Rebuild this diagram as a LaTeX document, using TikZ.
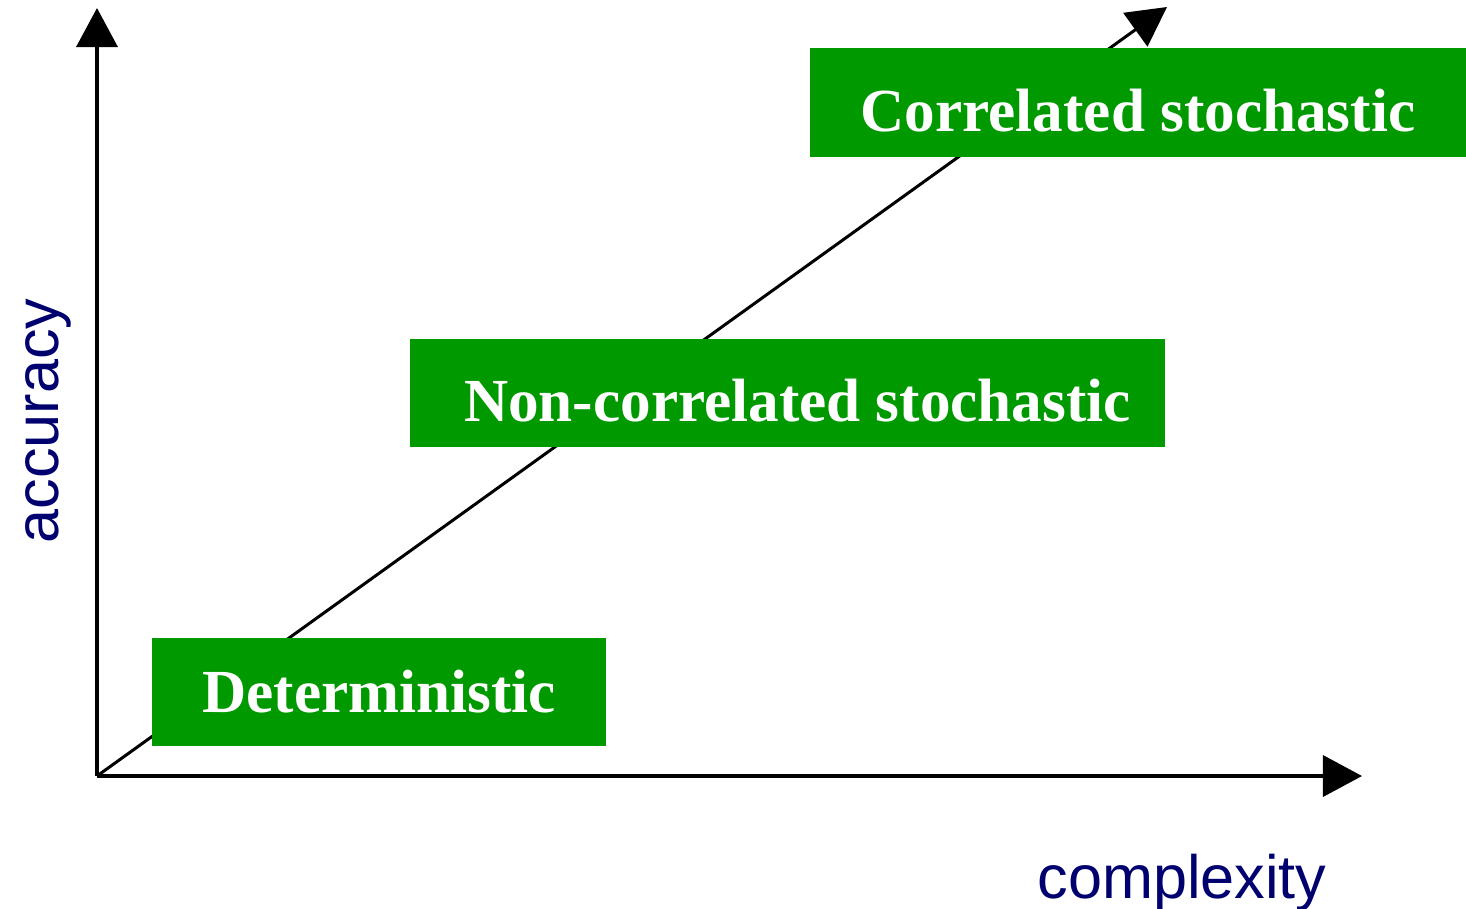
\documentclass[tikz,border=0pt]{standalone}
\usepackage{fontspec}
\setmainfont{Liberation Serif}
\newfontfamily\labelfont{Liberation Sans}
\usetikzlibrary{arrows.meta}
\definecolor{boxgreen}{RGB}{0,153,0}
\definecolor{labelblue}{RGB}{0,0,110}
\tikzset{
  axis/.style={line width=1pt,-{Triangle[length=0.39cm,width=0.41cm]}},
  classbox/.style={fill=boxgreen,text=white,inner sep=0pt,minimum height=1.08cm,
    text depth=0pt,text height=0.57cm,
    font=\fontsize{17.4pt}{20pt}\selectfont\bfseries},
  axislabel/.style={text=labelblue,inner sep=0pt,anchor=base,
    font=\labelfont\fontsize{17.4pt}{20pt}\selectfont}
}
\begin{document}
\begin{tikzpicture}[x=0.01cm,y=-0.01cm]
\useasboundingbox (0,0) rectangle (1466,908);
\coordinate (o) at (97,776);
\coordinate (ytip) at (97,8);
\coordinate (xtip) at (1362,776);
\coordinate (dtip) at (1167,7);

\draw[axis] (o) -- (ytip);
\draw[axis] (o) -- (xtip);
\draw[axis,line width=0.85pt] (o) -- (dtip);

\node[classbox,minimum width=4.54cm,text height=0.40cm] (det) at (379,692) {Deterministic};
\node[classbox,minimum width=7.55cm] (noncorr) at (787.5,393) {\hspace*{0.2cm}Non-correlated stochastic};
\node[classbox,minimum width=6.56cm,minimum height=1.09cm] (corr) at (1138,102.5) {Correlated stochastic};

\node[axislabel,rotate=90] (acc) at (58,421) {accuracy};
\node[axislabel] (cplx) at (1182,898) {complexity};
\end{tikzpicture}
\end{document}
